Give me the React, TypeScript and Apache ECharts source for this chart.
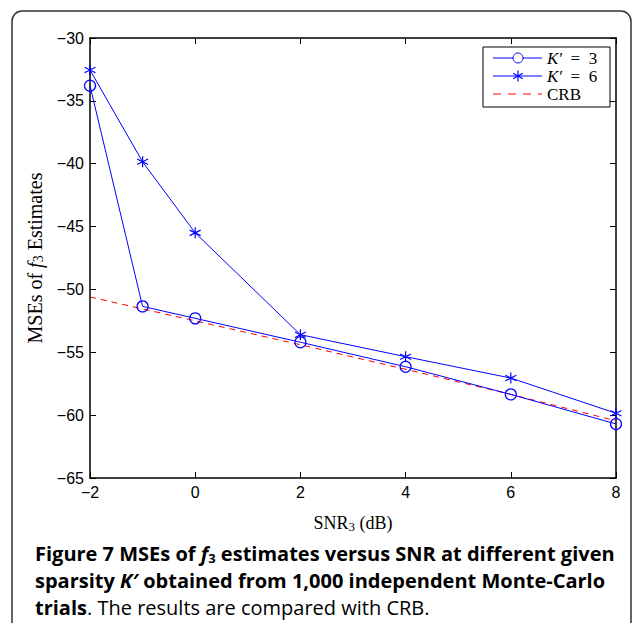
import React, { useEffect, useRef } from "react";
import * as echarts from "echarts";

const snr = [-2, -1, 0, 2, 4, 6, 8];
const mseK3 = [-33.8, -51.35, -52.3, -54.2, -56.15, -58.35, -60.7];
const mseK6 = [-32.55, -39.85, -45.5, -53.6, -55.35, -57.05, -59.85];
const crb = [-50.6, -51.55, -52.5, -54.4, -56.35, -58.35, -60.45];

const BLUE = "#0000ff";
const RED = "#ff0000";
const starPath = "path://M5,0 L5,10 M0.67,2.5 L9.33,7.5 M0.67,7.5 L9.33,2.5";

const fmt = (v: number) => (v < 0 ? "\u2212" + Math.abs(v) : String(v));

export default function App() {
  const ref = useRef<HTMLDivElement>(null);
  useEffect(() => {
    if (!ref.current) return;
    const chart = echarts.init(ref.current, null, { renderer: "svg" });
    const pairs = (ys: number[]) => snr.map((x, i) => [x, ys[i]]);
    const axisCommon = {
      axisLine: { show: true, onZero: false, lineStyle: { color: "#000", width: 1.5 } },
      axisTick: { show: true, inside: true, length: 6, lineStyle: { color: "#000", width: 1 } },
      splitLine: { show: false },
    };
    const serif = "'Liberation Serif', 'DejaVu Serif', serif";
    const sans = "'Liberation Sans', Arial, sans-serif";
    const cap = "'Open Sans', 'Noto Sans', sans-serif";
    const LX = 483;
    const LY = 47;
    const rowsY = [58, 76, 94];
    const legendEls: any[] = [];
    rowsY.forEach((cy, i) => {
      if (i === 2) {
        legendEls.push({
          type: "line",
          z: 101,
          shape: { x1: LX + 10, y1: cy, x2: LX + 59, y2: cy },
          style: { stroke: RED, lineWidth: 1, lineDash: [8, 7] },
        });
      } else {
        legendEls.push({
          type: "line",
          z: 101,
          shape: { x1: LX + 10, y1: cy, x2: LX + 59, y2: cy },
          style: { stroke: BLUE, lineWidth: 1 },
        });
        if (i === 0) {
          legendEls.push({ type: "circle", z: 102, shape: { cx: LX + 35, cy, r: 5 }, style: { fill: "#fff", stroke: BLUE, lineWidth: 1 } });
        } else {
          const r = 5.5;
          for (let a = 0; a < 3; a++) {
            const ang = (Math.PI / 3) * a + Math.PI / 2;
            legendEls.push({
              type: "line",
              z: 102,
              shape: { x1: LX + 35 - r * Math.cos(ang), y1: cy - r * Math.sin(ang), x2: LX + 35 + r * Math.cos(ang), y2: cy + r * Math.sin(ang) },
              style: { stroke: BLUE, lineWidth: 1.2 },
            });
          }
        }
      }
    });
    const legendTexts = ["{i|K\u2032}\u2002=\u20023", "{i|K\u2032}\u2002=\u20026", "CRB"];
    legendTexts.forEach((t, i) => {
      legendEls.push({
        type: "text",
        z: 102,
        x: LX + 64,
        y: rowsY[i],
        style: {
          text: t,
          fontFamily: serif,
          fontSize: 17,
          lineHeight: 16,
          fill: "#000",
          verticalAlign: "middle",
          align: "left",
          rich: { i: { fontStyle: "italic", fontFamily: serif, fontSize: 17, lineHeight: 16, fill: "#000" } },
        },
      });
    });
    const capStyle = { fontFamily: cap, fontSize: 20, color: "#222", fontWeight: "bold" };
    chart.setOption({
      animation: false,
      grid: { left: 90, right: 21, top: 38, bottom: 145, containLabel: false },
      xAxis: [
        {
          type: "value",
          min: -2,
          max: 8,
          interval: 2,
          position: "bottom",
          ...axisCommon,
          axisLabel: { show: true, formatter: fmt, color: "#000", fontFamily: sans, fontSize: 16, margin: 6 },
          name: "SNR{sub|3} (dB)",
          nameLocation: "middle",
          nameGap: 34,
          nameTextStyle: {
            fontFamily: serif,
            fontSize: 18,
            color: "#000",
            rich: { sub: { fontFamily: serif, fontSize: 13, padding: [8, 0, 0, 0], color: "#000" } },
          },
        },
        {
          type: "value",
          min: -2,
          max: 8,
          interval: 2,
          position: "top",
          ...axisCommon,
          axisLabel: { show: false },
        },
      ],
      yAxis: [
        {
          type: "value",
          min: -65,
          max: -30,
          interval: 5,
          position: "left",
          ...axisCommon,
          axisLabel: { show: true, formatter: fmt, color: "#000", fontFamily: sans, fontSize: 16, margin: 6 },
          name: "MSEs of {it|f}{sub|3} Estimates",
          nameLocation: "middle",
          nameGap: 40,
          nameRotate: 90,
          nameTextStyle: {
            fontFamily: serif,
            fontSize: 20,
            color: "#000",
            rich: {
              it: { fontFamily: serif, fontStyle: "italic", fontSize: 20, color: "#000" },
              sub: { fontFamily: serif, fontSize: 14, padding: [8, 0, 0, 0], color: "#000" },
            },
          },
        },
        {
          type: "value",
          min: -65,
          max: -30,
          interval: 5,
          position: "right",
          ...axisCommon,
          axisLabel: { show: false },
        },
      ],
      series: [
        {
          name: "CRB",
          type: "line",
          data: pairs(crb),
          showSymbol: false,
          symbol: "none",
          lineStyle: { color: RED, width: 1, type: [6, 5] },
          z: 1,
        },
        {
          name: "K3",
          type: "line",
          data: pairs(mseK3),
          symbol: "circle",
          symbolSize: 11,
          itemStyle: { color: "none", borderColor: BLUE, borderWidth: 1.2 },
          lineStyle: { color: BLUE, width: 1 },
          z: 2,
        },
        {
          name: "K6",
          type: "line",
          data: pairs(mseK6),
          symbol: starPath,
          symbolSize: 11,
          itemStyle: { color: "none", borderColor: BLUE, borderWidth: 1.2 },
          lineStyle: { color: BLUE, width: 1 },
          z: 3,
        },
      ],
      graphic: [
        {
          type: "rect",
          shape: { x: 12, y: 11, width: 619, height: 640, r: 10 },
          style: { fill: "none", stroke: "#333", lineWidth: 1.5 },
          silent: true,
        },
        {
          type: "rect",
          z: 100,
          shape: { x: LX, y: LY, width: 127, height: 60 },
          style: { fill: "#fff", stroke: "#000", lineWidth: 1 },
        },
        ...legendEls,
        {
          type: "text",
          x: 35,
          y: 553,
          style: {
            text: "{b|Figure 7 MSEs of }{bi|f}{bs|3}{b| estimates versus SNR at different given}",
            verticalAlign: "middle",
            rich: {
              b: { ...capStyle },
              bi: { ...capStyle, fontStyle: "italic" },
              bs: { ...capStyle, fontSize: 13, padding: [9, 0, 0, 0] },
            },
          },
        },
        {
          type: "text",
          x: 35,
          y: 580,
          style: {
            text: "{b|sparsity }{bi|K\u2032}{b| obtained from 1,000 independent Monte-Carlo}",
            verticalAlign: "middle",
            rich: {
              b: { ...capStyle },
              bi: { ...capStyle, fontStyle: "italic" },
            },
          },
        },
        {
          type: "text",
          x: 35,
          y: 607,
          style: {
            text: "{b|trials}{r|. The results are compared with CRB.}",
            verticalAlign: "middle",
            rich: {
              b: { ...capStyle },
              r: { ...capStyle, fontWeight: "normal" },
            },
          },
        },
      ],
    });
    return () => chart.dispose();
  }, []);
  return <div ref={ref} style={{ width: 637, height: 623, position: "absolute", left: 0, top: 0, background: "#fff" }} />;
}
